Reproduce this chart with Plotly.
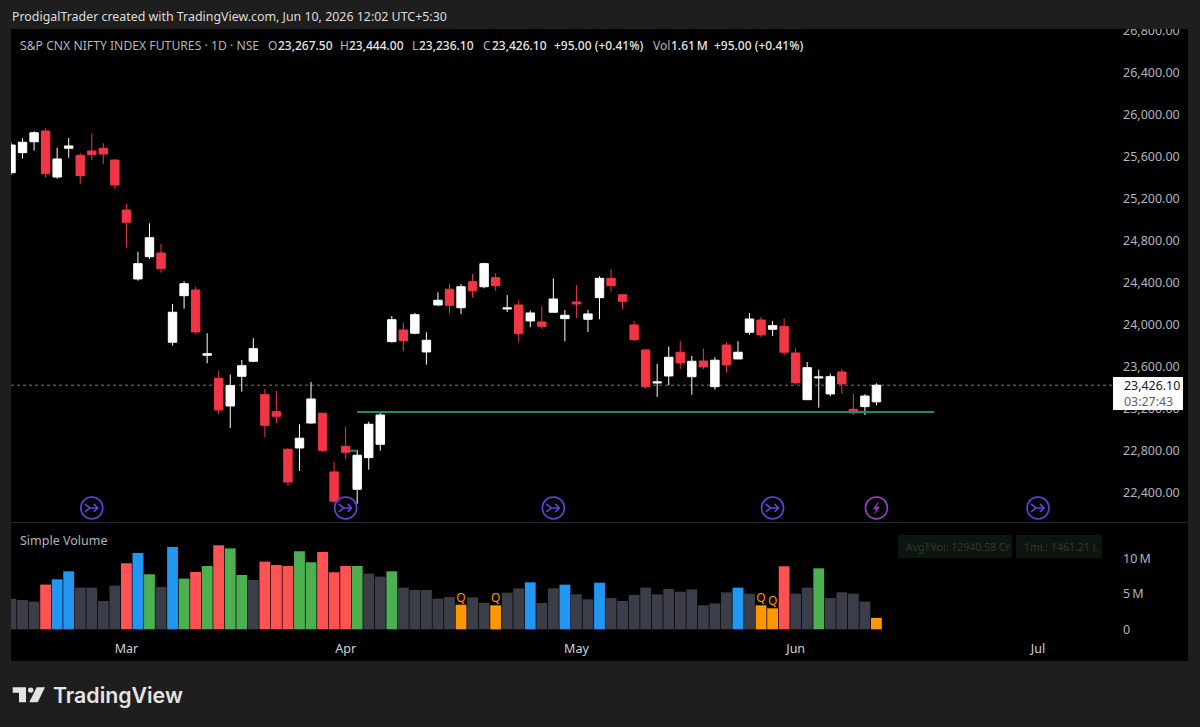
## Nifty futures daily chart with volume pane ##

import plotly.graph_objects as go

# daily candles, oldest first
opens = [25450, 25641, 25745, 25847, 25409, 25683, 25616, 25657, 25683, 25571,
         25095, 24438, 24650, 24685, 23835, 24279, 24333, 23711, 23492, 23228,
         23511, 23654, 23336, 23174, 22816, 22828, 23066, 23159, 22600, 22844,
         22435, 22736, 22863, 23841, 23952, 23921, 23743, 24190, 24340, 24164,
         24412, 24364, 24450, 24152, 24190, 24038, 24028, 24121, 24060, 24219,
         24054, 24260, 24444, 24288, 24000, 23762, 23447, 23514, 23740, 23507,
         23657, 23412, 23809, 23676, 23930, 24047, 23959, 23987, 23733, 23288,
         23495, 23343, 23552, 23197, 23222, 23267.5]
highs = [25740, 25778, 25845, 25873, 25688, 25781, 25635, 25826, 25730, 25578,
         25152, 24698, 24968, 24771, 24200, 24416, 24364, 23921, 23564, 23526,
         23666, 23873, 23390, 23371, 22825, 23054, 23457, 23159, 22698, 23031,
         22809, 23079, 23178, 24085, 24025, 24114, 23930, 24311, 24390, 24390,
         24485, 24593, 24495, 24285, 24235, 24136, 24178, 24444, 24143, 24381,
         24143, 24463, 24533, 24292, 24038, 23768, 23628, 23793, 23850, 23705,
         23774, 23692, 23835, 23845, 24114, 24076, 24038, 24060, 23778, 23647,
         23574, 23536, 23581, 23345, 23340, 23444]
lows = [25430, 25584, 25660, 25403, 25393, 25593, 25343, 25571, 25533, 25292,
        24736, 24422, 24628, 24498, 23803, 24155, 23914, 23635, 23152, 23019,
        23364, 23647, 22930, 23066, 22469, 22609, 23060, 22790, 22307, 22723,
        22295, 22622, 22803, 23831, 23749, 23911, 23622, 24183, 24111, 24102,
        24260, 24349, 24323, 24123, 23835, 23978, 23962, 24121, 23845, 24066,
        23933, 24054, 24317, 24152, 23847, 23393, 23314, 23425, 23581, 23336,
        23578, 23384, 23545, 23676, 23907, 23883, 23895, 23711, 23431, 23285,
        23212, 23321, 23345, 23142, 23142, 23236.1]
closes = [25714, 25740, 25831, 25441, 25581, 25705, 25422, 25622, 25628, 25333,
          24978, 24584, 24831, 24536, 24121, 24393, 23933, 23726, 23190, 23422,
          23612, 23774, 23044, 23130, 22504, 22921, 23295, 22806, 22321, 22787,
          22759, 23054, 23142, 24050, 23850, 24098, 23854, 24235, 24187, 24364,
          24326, 24584, 24374, 24162, 23917, 24114, 23987, 24247, 24092, 24200,
          24105, 24444, 24374, 24225, 23860, 23412, 23457, 23692, 23638, 23654,
          23600, 23664, 23619, 23740, 24057, 23905, 23993, 23740, 23450, 23593,
          23504, 23507, 23438, 23162, 23323, 23426.1]

# volume in millions, one state letter per bar
volumes = [4.3, 4.13, 3.9, 6.3, 7.04, 8.17, 5.87, 5.87, 4.0, 6.15,
           9.3, 10.75, 7.75, 5.96, 11.6, 7.14, 8.08, 8.92, 11.83, 11.4,
           7.65, 6.95, 9.53, 9.06, 8.92, 11.0, 9.44, 10.9, 8.03, 8.92,
           8.92, 7.84, 7.42, 8.17, 5.87, 5.54, 5.54, 4.32, 4.55, 3.47,
           4.5, 3.71, 3.38, 5.16, 5.77, 6.62, 3.71, 5.77, 6.29, 4.93,
           4.23, 6.57, 4.41, 3.99, 4.84, 5.87, 4.93, 5.68, 5.31, 5.63,
           3.38, 3.66, 5.21, 5.87, 5.02, 3.38, 2.96, 8.87, 5.02, 5.87,
           8.59, 4.41, 5.21, 5.02, 3.9, 1.61]
vol_state = list("nnnrbbnnnnrbgnbgrgrg"
                 "gnrrrggrrrgnngnnnnnq"
                 "nnqnnbnnbnnbnnnnnnnn"
                 "nnnbnqqrnngnnnnq")
q_bars = [39, 42, 65, 66]

price_ticks = [22400, 22800, 23200, 23600, 24000, 24400, 24800, 25200, 25600, 26000, 26400, 26800]
vol_ticks = [0, 5, 10]
vol_tick_text = ['0', '5\u2009M', '10\u2009M']
month_pos = [10, 29, 49, 68, 89]
month_names = ['Mar', 'Apr', 'May', 'Jun', 'Jul']

event_bars = [7, 29, 47, 66, 89]
bolt_bars = [75]
event_price = 22257

level_price = 23171
level_bars = [30, 80]
stub_price = 22802
stub_bars = [29.3, 30]

W, H = 1200, 727
BG = '#1e1e1e'
TXT = '#b2b5be'
FONT = 'Noto Sans'
state_colors = {'n': '#3b3e48', 'r': '#ff5252', 'b': '#2196f3', 'g': '#4caf50', 'q': '#ff9800'}


def px(x):
    return x / W


def py(y):
    return 1 - y / H


bars = list(range(len(opens)))
last_close = closes[-1]

fig = go.Figure()

# Candles
fig.add_trace(go.Candlestick(x=bars, open=opens, high=highs, low=lows, close=closes,
                             increasing=dict(line=dict(color='#ffffff', width=1), fillcolor='#ffffff'),
                             decreasing=dict(line=dict(color='#f23645', width=1), fillcolor='#f23645'),
                             whiskerwidth=0, showlegend=False, xaxis='x', yaxis='y'))

# Support level
fig.add_trace(go.Scatter(x=level_bars, y=[level_price, level_price], mode='lines',
                         line=dict(color='#1c8a74', width=2), xaxis='x', yaxis='y'))
fig.add_trace(go.Scatter(x=stub_bars, y=[stub_price, stub_price], mode='lines',
                         line=dict(color='#1c8a74', width=2), xaxis='x', yaxis='y'))

# Event circles
fig.add_trace(go.Scatter(x=event_bars, y=[event_price] * len(event_bars), mode='markers',
                         marker=dict(symbol='circle-open', size=22, color='#6540e0', line=dict(width=1.6, color='#6540e0')),
                         xaxis='x', yaxis='y'))
fig.add_trace(go.Scatter(x=bolt_bars, y=[event_price] * len(bolt_bars), mode='markers',
                         marker=dict(symbol='circle-open', size=22, color='#9c3fc4', line=dict(width=1.6, color='#9c3fc4')),
                         xaxis='x', yaxis='y'))

# Volume
fig.add_trace(go.Bar(x=bars, y=volumes, marker=dict(color=[state_colors[s] for s in vol_state], line=dict(width=0)),
                     xaxis='x2', yaxis='y2'))
fig.add_trace(go.Scatter(x=q_bars, y=[volumes[i] for i in q_bars], mode='text', text=['Q'] * len(q_bars),
                         textposition='top center', textfont=dict(color='#ff9800', size=12, family=FONT),
                         xaxis='x2', yaxis='y2'))

shapes = [
    # chart panel, pane separator
    dict(type='rect', xref='paper', yref='paper', x0=px(11), x1=px(1188), y0=py(661), y1=py(29),
         fillcolor='#000000', line=dict(width=0), layer='below'),
    dict(type='line', xref='paper', yref='paper', x0=px(11), x1=px(1188), y0=py(522.5), y1=py(522.5),
         line=dict(color='#23252b', width=1), layer='below'),
    # last price line
    dict(type='line', xref='paper', yref='y', x0=px(11), x1=px(1113), y0=last_close, y1=last_close,
         line=dict(color='#74777f', width=1, dash='dot'), layer='below'),
    # header hides the clipped top tick
    dict(type='rect', xref='paper', yref='paper', x0=0, x1=1, y0=py(29), y1=1,
         fillcolor=BG, line=dict(width=0), layer='above'),
    # last price tag
    dict(type='rect', xref='paper', yref='paper', x0=px(1113), x1=px(1183), y0=py(410), y1=py(377),
         fillcolor='#ffffff', line=dict(width=0), layer='above'),
    # indicator badges
    dict(type='rect', xref='paper', yref='paper', x0=px(898), x1=px(1012), y0=py(558), y1=py(535),
         fillcolor='#0c160f', line=dict(width=0), layer='below'),
    dict(type='rect', xref='paper', yref='paper', x0=px(1016), x1=px(1102), y0=py(558), y1=py(535),
         fillcolor='#0c160f', line=dict(width=0), layer='below'),
    # logo mark
    dict(type='path', xref='paper', yref='paper',
         path=f'M {px(12.7)} {py(687.3)} L {px(26)} {py(687.3)} L {px(26)} {py(702.3)} L {px(19)} {py(702.3)} '
              f'L {px(19)} {py(692.7)} L {px(12.7)} {py(692.7)} Z',
         fillcolor='#e4e4e4', line=dict(width=0), layer='above'),
    dict(type='circle', xref='paper', yref='paper', x0=px(28), x1=px(33.4), y0=py(692.8), y1=py(687.4),
         fillcolor='#e4e4e4', line=dict(width=0), layer='above'),
    dict(type='path', xref='paper', yref='paper',
         path=f'M {px(36.7)} {py(687.3)} L {px(45)} {py(687.3)} L {px(37.7)} {py(702.3)} L {px(29.3)} {py(702.3)} Z',
         fillcolor='#e4e4e4', line=dict(width=0), layer='above'),
]

# Glyphs inside the event circles
for b in event_bars:
    shapes.append(dict(type='path', xref='x', yref='y', xsizemode='pixel', ysizemode='pixel',
                       xanchor=b, yanchor=event_price,
                       path='M -7 4 L -2 0 L 6 0 M -7 -4 L -2 0 M 2 4 L 6 0 L 2 -4',
                       line=dict(color='#6540e0', width=1.6), layer='above'))
for b in bolt_bars:
    shapes.append(dict(type='path', xref='x', yref='y', xsizemode='pixel', ysizemode='pixel',
                       xanchor=b, yanchor=event_price,
                       path='M 2 6 L -3 -1 L 0 -1 L -2 -6 L 3 1 L 0 1 Z',
                       fillcolor='#9c3fc4', line=dict(color='#9c3fc4', width=0.5), layer='above'))


def label(x, y, text, color=TXT, size=12, family=FONT, **kw):
    return dict(xref='paper', yref='paper', x=px(x), y=py(y), text=text, showarrow=False,
                xanchor='left', yanchor='middle', align='left', borderpad=0,
                font=dict(color=color, size=size, family=family, **kw))


BRIGHT = '#e6e7ea'
annotations = [
    label(11, 16, 'ProdigalTrader created with TradingView.com, Jun 10, 2026 12:02 UTC+5:30', '#dcdcdc', 12.4),
    label(19, 45.5, 'S&P CNX NIFTY INDEX FUTURES · 1D · NSE', TXT, 12.2),
    label(267, 45.5, 'O', TXT, 12), label(277, 45.5, '23,267.50', BRIGHT, 12, weight=500),
    label(339, 45.5, 'H', TXT, 12), label(348, 45.5, '23,444.00', BRIGHT, 12, weight=500),
    label(411, 45.5, 'L', TXT, 12), label(418, 45.5, '23,236.10', BRIGHT, 12, weight=500),
    label(482, 45.5, 'C', TXT, 12), label(491, 45.5, '23,426.10', BRIGHT, 12, weight=500),
    label(553, 45.5, '+95.00 (+0.41%)', BRIGHT, 12, weight=500),
    label(652, 45.5, 'Vol', TXT, 12), label(670, 45.5, '1.61\u2009M', BRIGHT, 12, weight=500),
    label(713, 45.5, '+95.00 (+0.41%)', BRIGHT, 12, weight=500),
    label(19, 540, 'Simple Volume', TXT, 12.5),
    label(905, 546.5, 'Avg₹Vol: 12940.58 Cr', '#2c3a30', 10.5),
    label(1023, 546.5, '1mL: 1461.21 L', '#2c3a30', 10.5),
    label(1122.5, 385.5, f'{last_close:,.2f}', '#131722', 12.4),
    label(1122.5, 401, '03:27:43', '#5d606b', 12.4),
    label(52, 695, 'TradingView', '#e4e4e4', 21.3, 'Inter', weight=600),
]

fig.update_layout(width=W, height=H, margin=dict(l=0, r=0, t=0, b=0, autoexpand=False),
                  paper_bgcolor=BG, plot_bgcolor='rgba(0,0,0,0)',
                  showlegend=False, bargap=0.06, boxgap=0.27, boxgroupgap=0,
                  font=dict(family=FONT, color=TXT, size=12),
                  shapes=shapes, annotations=annotations,
                  xaxis=dict(domain=[px(11), px(1113)], range=[0, 95.5], anchor='y', matches='x2',
                             rangeslider=dict(visible=False), showgrid=False, zeroline=False,
                             showticklabels=False, ticks='', automargin=False),
                  xaxis2=dict(domain=[px(11), px(1113)], range=[0, 95.5], anchor='y2',
                              tickvals=month_pos, ticktext=month_names, ticks='', showgrid=False,
                              zeroline=False, showline=False, ticklabelstandoff=4, automargin=False,
                              tickfont=dict(color='#d1d4dc', size=12.5, family=FONT)),
                  yaxis=dict(domain=[py(522), py(29)], range=[22123, 26819], side='right', anchor='x',
                             tickvals=price_ticks, tickformat=',.2f', showgrid=False, zeroline=False,
                             ticks='', ticklabelstandoff=9, automargin=False,
                             tickfont=dict(color=TXT, size=12.5, family=FONT)),
                  yaxis2=dict(domain=[py(635), py(523)], range=[-0.8, 14.97], side='right', anchor='x2',
                              tickvals=vol_ticks, ticktext=vol_tick_text, showgrid=False, zeroline=False,
                              ticks='', ticklabelstandoff=9, automargin=False,
                              tickfont=dict(color=TXT, size=12.5, family=FONT)))

fig.write_html("out.html", config=dict(displayModeBar=False),
               post_script="document.body.style.margin='0';")
